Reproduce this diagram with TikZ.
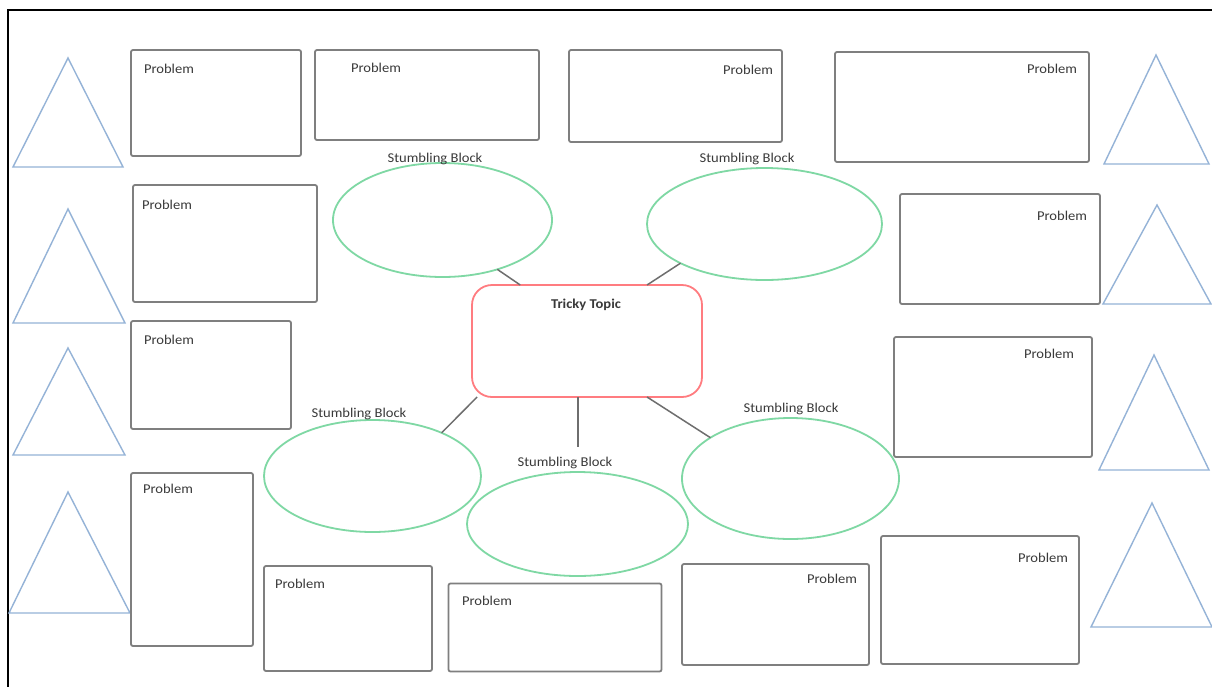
\documentclass[tikz,border=0pt]{standalone}
\usepackage{fontspec}
\setmainfont{Carlito}[FakeStretch=1.08]
\usetikzlibrary{shapes.geometric,calc}

\definecolor{boxgray}{HTML}{7F7F7F}
\definecolor{tribl}{HTML}{95B3D7}
\definecolor{ovalgreen}{HTML}{7FD8A4}
\definecolor{topicred}{HTML}{FF7C80}
\definecolor{linkgray}{HTML}{6E6E6E}
\definecolor{txt}{HTML}{3A3A3A}

\tikzset{
  prob/.style={draw=boxgray, line width=1.8pt, rounded corners=2pt,
    rectangle, inner sep=0pt, outer sep=0pt},
  lab/.style={inner sep=0pt, outer sep=0pt, text=txt,
    font=\fontsize{13.5}{15}\selectfont},
  oval/.style={draw=ovalgreen, line width=1.8pt, ellipse, inner sep=0pt,
    outer sep=0pt},
  tri/.style={draw=tribl, line width=1.4pt, line join=miter},
  link/.style={draw=linkgray, line width=1.5pt},
  topicbox/.style={draw=topicred, line width=1.8pt, rounded corners=20pt,
    rectangle, inner sep=0pt, outer sep=0pt,
    minimum width=230pt, minimum height=112pt}
}

\begin{document}
\begin{tikzpicture}[x=1pt, y=-1pt]
\useasboundingbox (0,0) rectangle (1212,686);
\clip (0,0) rectangle (1212,686);
\fill[white] (0,0) rectangle (1212,686);

% page frame
\draw[line width=2.8pt, black] (8,700) -- (8,10) -- (1230,10);

% triangles, left column
\draw[tri] (68,58)  -- (123,167) -- (13,167) -- cycle;
\draw[tri] (68,209) -- (125,323) -- (13,323) -- cycle;
\draw[tri] (68,348) -- (125,455) -- (13,455) -- cycle;
\draw[tri] (68,492) -- (130,613) -- (9,613)  -- cycle;
% triangles, right column
\draw[tri] (1156,55)  -- (1209,164) -- (1104,164) -- cycle;
\draw[tri] (1157,205) -- (1211,304) -- (1103,304) -- cycle;
\draw[tri] (1154,355) -- (1209,470) -- (1099,470) -- cycle;
\draw[tri] (1152,503) -- (1212,627) -- (1091,627) -- cycle;

% problem boxes
\node[prob, minimum width=170pt, minimum height=106pt] (p1)  at (216,103)    {};
\node[prob, minimum width=224pt, minimum height=90pt]  (p2)  at (427,95)     {};
\node[prob, minimum width=213pt, minimum height=92pt]  (p3)  at (675.5,96)   {};
\node[prob, minimum width=254pt, minimum height=110pt] (p4)  at (962,107)    {};
\node[prob, minimum width=184pt, minimum height=117pt] (p5)  at (225,243.5)  {};
\node[prob, minimum width=200pt, minimum height=110pt] (p6)  at (1000,249)   {};
\node[prob, minimum width=160pt, minimum height=108pt] (p7)  at (211,375)    {};
\node[prob, minimum width=198pt, minimum height=120pt] (p8)  at (993,397)    {};
\node[prob, minimum width=122pt, minimum height=173pt] (p9)  at (192,559.5)  {};
\node[prob, minimum width=168pt, minimum height=105pt] (p10) at (348,618.5)  {};
\node[prob, minimum width=213pt, minimum height=88pt]  (p11) at (555,627.5)  {};
\node[prob, minimum width=187pt, minimum height=101pt] (p12) at (775.5,614.5) {};
\node[prob, minimum width=198pt, minimum height=128pt] (p13) at (980,600)    {};

% problem labels
\node[lab, anchor=base west] (t1)  at (144,73)  {Problem};
\node[lab, anchor=base west] (t2)  at (351,72)  {Problem};
\node[lab, anchor=base east] (t3)  at (773,74)  {Problem};
\node[lab, anchor=base east] (t4)  at (1077,73) {Problem};
\node[lab, anchor=base west] (t5)  at (142,209) {Problem};
\node[lab, anchor=base east] (t6)  at (1087,220) {Problem};
\node[lab, anchor=base west] (t7)  at (144,344) {Problem};
\node[lab, anchor=base east] (t8)  at (1074,358) {Problem};
\node[lab, anchor=base west] (t9)  at (143,493) {Problem};
\node[lab, anchor=base west] (t10) at (275,588) {Problem};
\node[lab, anchor=base west] (t11) at (462,605) {Problem};
\node[lab, anchor=base east] (t12) at (857,583) {Problem};
\node[lab, anchor=base east] (t13) at (1068,562) {Problem};

% central topic
\node[topicbox] (topic) at (587,341) {};
\node[lab, anchor=base, font=\fontsize{13.5}{15}\selectfont\bfseries]
  (topiclab) at (586,308) {Tricky Topic};

% stumbling blocks
\node[oval, minimum width=219pt, minimum height=114pt] (s1) at (442.5,220) {};
\node[oval, minimum width=235pt, minimum height=112pt] (s2) at (764.5,224) {};
\node[oval, minimum width=217pt, minimum height=112pt] (s3) at (372.5,476) {};
\node[oval, minimum width=221pt, minimum height=104pt] (s4) at (577.5,524) {};
\node[oval, minimum width=217pt, minimum height=121pt] (s5) at (790.5,478.5) {};

\node[lab, anchor=base] (b1) at (435,162.5) {Stumbling Block};
\node[lab, anchor=base] (b2) at (747,162.5) {Stumbling Block};
\node[lab, anchor=base] (b3) at (359,417.5) {Stumbling Block};
\node[lab, anchor=base] (b4) at (565,466.5) {Stumbling Block};
\node[lab, anchor=base] (b5) at (791,412.5) {Stumbling Block};

% connectors
\coordinate (c4) at (578,447);
\draw[link] (s1.-42.4) -- (topic.140.5);
\draw[link] (s2.205.6) -- (topic.43);
\draw[link] (topic.207.2) -- (s3.32.3);
\draw[link] (topic.south -| c4) -- (c4);
\draw[link] (topic.-43.5) -- (s5.153.6);
\end{tikzpicture}
\end{document}
